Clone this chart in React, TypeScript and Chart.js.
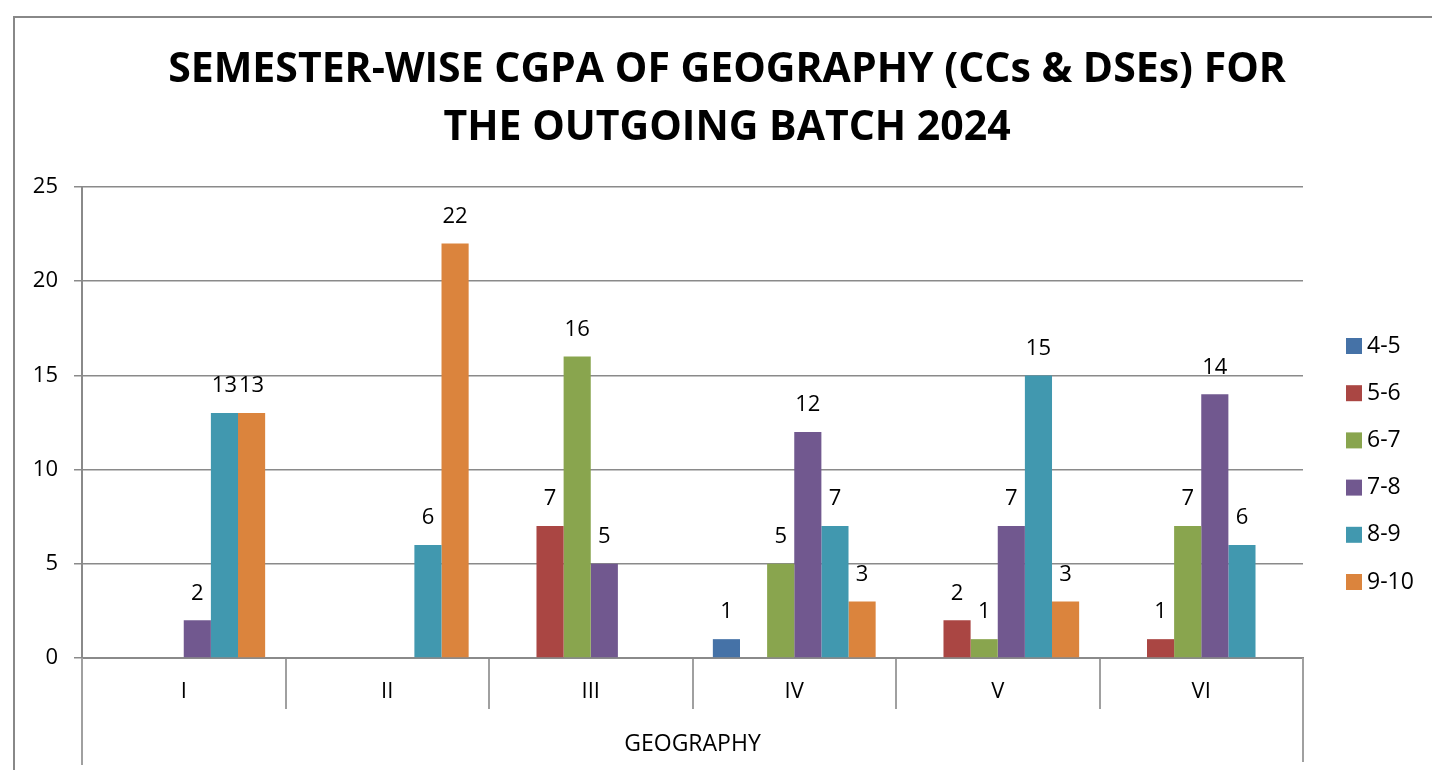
import React, { useEffect, useRef } from "react";
import { Chart, registerables } from "chart.js";

Chart.register(...registerables);

const semesters = ["I", "II", "III", "IV", "V", "VI"];
const rangeLabels = ["4-5", "5-6", "6-7", "7-8", "8-9", "9-10"];
const cgpa45 = [null, null, null, 1, null, null];
const cgpa56 = [null, null, 7, null, 2, 1];
const cgpa67 = [null, null, 16, 5, 1, 7];
const cgpa78 = [2, null, 5, 12, 7, 14];
const cgpa89 = [13, 6, null, 7, 15, 6];
const cgpa910 = [13, 22, null, 3, 3, null];
const seriesColors = ["#4572A7", "#AA4643", "#89A54E", "#71588F", "#4198AF", "#DB843D"];
const yMin = 0;
const yMax = 25;
const yStep = 5;
const groupLabel = "GEOGRAPHY";
const titleLines = ["SEMESTER-WISE CGPA OF GEOGRAPHY (CCs & DSEs) FOR", "THE OUTGOING BATCH 2024"];

const FONT = "'Open Sans', 'Noto Sans', sans-serif";
const GRID = "#8a8a8a";

const framePlugin = {
  id: "frame",
  beforeDraw(chart: any) {
    const { ctx, width, height } = chart;
    ctx.save();
    ctx.fillStyle = "#ffffff";
    ctx.fillRect(0, 0, width, height);
    ctx.strokeStyle = "#888888";
    ctx.lineWidth = 2;
    ctx.beginPath();
    ctx.moveTo(14, height);
    ctx.lineTo(14, 17);
    ctx.lineTo(width, 17);
    ctx.stroke();
    // title
    ctx.fillStyle = "#000000";
    ctx.font = `bold 41px ${FONT}`;
    ctx.textAlign = "center";
    ctx.textBaseline = "middle";
    titleLines.forEach((line, i) => {
      ctx.fillText(line, 727, 70 + i * 58);
    });
    ctx.restore();
  },
  afterDraw(chart: any) {
    const { ctx, chartArea } = chart;
    ctx.save();
    ctx.strokeStyle = "#a0a0a0";
    ctx.lineWidth = 2;
    ctx.beginPath();
    ctx.moveTo(chartArea.left, chartArea.bottom);
    ctx.lineTo(chartArea.left, 765);
    ctx.moveTo(chartArea.right, chartArea.bottom);
    ctx.lineTo(chartArea.right, 762);
    ctx.stroke();
    // legend
    ctx.font = `23px ${FONT}`;
    ctx.textBaseline = "middle";
    ctx.textAlign = "left";
    chart.data.datasets.forEach((ds: any, i: number) => {
      const y = 346 + i * 47.2;
      ctx.fillStyle = ds.backgroundColor;
      ctx.fillRect(1346, y - 8, 16, 16);
      ctx.fillStyle = "#000000";
      ctx.fillText(ds.label, 1367, y);
    });
    ctx.restore();
  },
};

const valueLabelPlugin = {
  id: "valueLabels",
  afterDatasetsDraw(chart: any) {
    const { ctx } = chart;
    ctx.save();
    ctx.font = `22px ${FONT}`;
    ctx.fillStyle = "#000000";
    ctx.textAlign = "center";
    ctx.textBaseline = "middle";
    chart.data.datasets.forEach((ds: any, di: number) => {
      const meta = chart.getDatasetMeta(di);
      meta.data.forEach((el: any, i: number) => {
        const v = ds.data[i];
        if (v === null || v === undefined || v === 0) return;
        ctx.fillText(String(v), el.x, el.y - 27);
      });
    });
    ctx.restore();
  },
};

export default function App() {
  const ref = useRef<HTMLCanvasElement | null>(null);
  useEffect(() => {
    const canvas = ref.current;
    if (!canvas) return;
    const allSeries = [cgpa45, cgpa56, cgpa67, cgpa78, cgpa89, cgpa910];
    const chart = new Chart(canvas, {
      type: "bar",
      data: {
        labels: semesters,
        datasets: rangeLabels.map((label, i) => ({
          label,
          data: allSeries[i],
          backgroundColor: seriesColors[i],
          borderWidth: 0,
          categoryPercentage: 0.8,
          barPercentage: 1,
        })),
      },
      options: {
        responsive: false,
        animation: false,
        layout: { padding: { left: 0, right: 129, top: 187, bottom: 0 } },
        plugins: {
          legend: { display: false },
          tooltip: { enabled: false },
          title: { display: false },
        },
        scales: {
          x: {
            grid: {
              offset: true,
              drawOnChartArea: false,
              drawTicks: true,
              tickLength: 51,
              color: "#a0a0a0",
              lineWidth: 2,
            },
            border: { display: true, color: GRID, width: 2 },
            ticks: {
              padding: -30,
              color: "#000000",
              font: { family: FONT, size: 22, lineHeight: 1.2 },
              maxRotation: 0,
            },
            title: {
              display: true,
              text: groupLabel,
              color: "#000000",
              font: { family: FONT, size: 23, lineHeight: 1.2 },
              padding: { top: 0, bottom: 12 },
            },
            afterFit(scale: any) {
              scale.height = 112;
            },
          },
          y: {
            min: yMin,
            max: yMax,
            ticks: {
              stepSize: yStep,
              padding: 16,
              color: "#000000",
              font: { family: FONT, size: 22 },
            },
            grid: { color: GRID, lineWidth: 1.5, tickLength: 8, drawTicks: true },
            border: { display: true, color: GRID, width: 2 },
            afterFit(scale: any) {
              scale.width = 82;
            },
          },
        },
      },
      plugins: [framePlugin, valueLabelPlugin],
    });
    return () => chart.destroy();
  }, []);
  return (
    <canvas
      ref={ref}
      width={1432}
      height={770}
      style={{ position: "fixed", left: 0, top: 0, width: 1432, height: 770, display: "block" }}
    />
  );
}
